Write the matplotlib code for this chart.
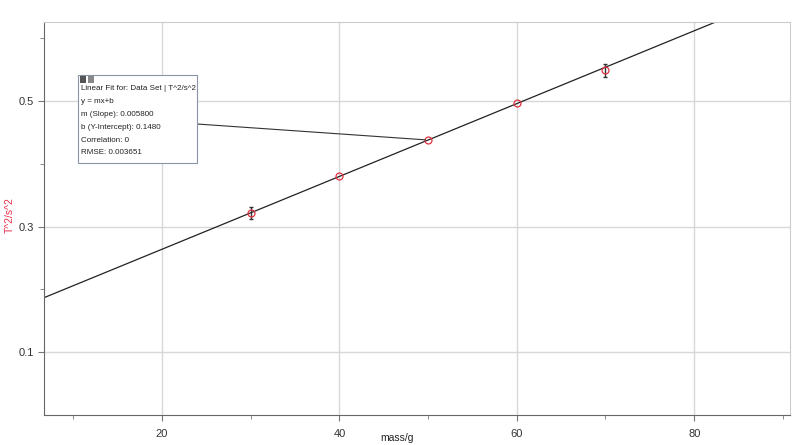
import matplotlib
matplotlib.use("Agg")
import matplotlib.pyplot as plt
import numpy as np

plt.rcParams['font.family'] = ['Liberation Sans', 'DejaVu Sans']

mass = [30, 40, 50, 60, 70]
t2 = [0.322, 0.380, 0.438, 0.497, 0.549]
t2_err = [0.010, 0, 0, 0, 0.010]
slope = 0.0058
intercept = 0.1480
fit_text = ["Linear Fit for: Data Set | T^2/s^2", "y = mx+b", "m (Slope): 0.005800",
            "b (Y-Intercept): 0.1480", "Correlation: 0", "RMSE: 0.003651"]

fig = plt.figure(figsize=(8, 4.45), dpi=100)
ax = fig.add_axes([44/800, 1-415/445, (790-44)/800, (415-22)/445])
xlim = (6.7, 90.8)
ylim = (0.0, 0.626)
ax.set_xlim(*xlim)
ax.set_ylim(*ylim)

ax.set_xticks([20, 40, 60, 80])
ax.set_xticks([10, 30, 50, 70, 90], minor=True)
ax.set_yticks([0.1, 0.3, 0.5])
ax.set_yticks([0.2, 0.4, 0.6], minor=True)
ax.set_yticklabels(["0.1", "0.3", "0.5"])
ax.grid(True, which="major", color="#d8d8d8", lw=1)
ax.set_axisbelow(True)
ax.tick_params(axis="both", which="major", labelsize=8, length=4, color="#777777", labelcolor="#333333")
ax.tick_params(axis="both", which="minor", length=3, color="#777777")
ax.tick_params(axis="x", pad=6)
for s in ["top", "right"]:
    ax.spines[s].set_color("#cccccc")
for s in ["left", "bottom"]:
    ax.spines[s].set_color("#666666")

xs = np.array(xlim)
ax.plot(xs, slope*xs + intercept, color="#222222", lw=0.9)
for x, y, e in zip(mass, t2, t2_err):
    if e > 0:
        ax.errorbar([x], [y], yerr=[e], fmt="none", ecolor="#333333", elinewidth=1, capsize=1.5)
ax.plot(mass, t2, "o", mfc="none", mec="#e03040", ms=5, mew=0.9)

fig.text(10/800, 1-215/445, "T^2/s^2", color="#e8304a", fontsize=7.5,
         rotation=90, ha="center", va="center")
fig.text(397/800, 1-438/445, "mass/g", color="#222222", fontsize=7.5,
         ha="center", va="center")

# annotation box
bx0, bx1 = 78, 197
by0, by1 = 75, 163
def to_data(px, py):
    x = xlim[0] + (px-44)/(790-44)*(xlim[1]-xlim[0])
    y = ylim[0] + (415-py)/(415-22)*(ylim[1]-ylim[0])
    return x, y
ax.annotate("", xy=(50, 0.438), xytext=to_data(bx1, 124),
            arrowprops=dict(arrowstyle="-", color="#333333", lw=0.8, shrinkA=0, shrinkB=2))
x0, y0 = to_data(bx0, by1)
x1, y1 = to_data(bx1, by0)
ax.add_patch(plt.Rectangle((x0, y0), x1-x0, y1-y0, facecolor="white",
                           edgecolor="#8a94a8", lw=0.8, zorder=5))
for i, t in enumerate(fit_text):
    tx, ty = to_data(81, 89 + i*12.8)
    ax.text(tx, ty, t, fontsize=5.8, color="#222222", va="center", ha="left", zorder=6)
# small icons
for k, c in enumerate(["#555555", "#888888"]):
    ix, iy = to_data(80 + k*8, 83)
    ix2, iy2 = to_data(86 + k*8, 76)
    ax.add_patch(plt.Rectangle((ix, iy), ix2-ix, iy2-iy, facecolor=c, edgecolor="none", zorder=6))

fig.savefig("out.png", dpi=100)
